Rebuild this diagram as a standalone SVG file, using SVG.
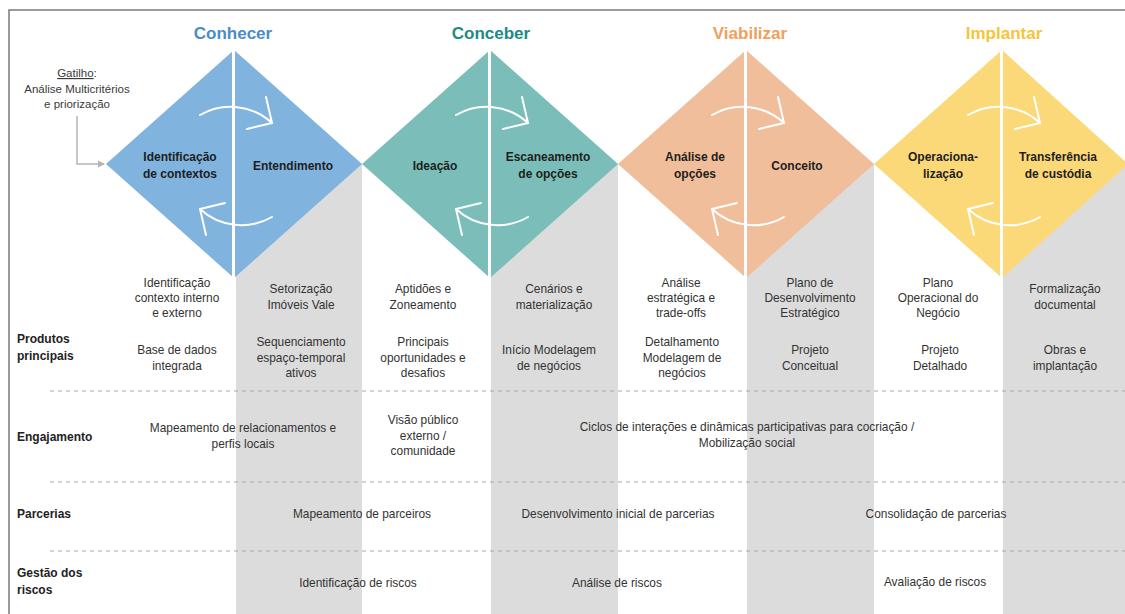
<svg xmlns="http://www.w3.org/2000/svg" width="1125" height="614" viewBox="0 0 1125 614">
<style>
  text { font-family: "Liberation Sans", Arial, sans-serif; }
  .t { font-size: 11.9px; fill: #333; text-anchor: middle; }
  .g { font-size: 11.5px; fill: #3a3a3a; text-anchor: middle; }
  .rl { font-size: 12px; font-weight: bold; fill: #222; }
  .dl { font-size: 12px; font-weight: bold; fill: #1e1e1e; text-anchor: middle; }
  .ti { font-size: 17px; font-weight: bold; text-anchor: middle; }
  .grey { fill: #dcdcdc; }
  .sep { stroke: #fff; stroke-width: 3; }
  .cyc { fill: none; stroke: #fff; stroke-width: 2; stroke-linecap: round; stroke-linejoin: round; }
  .dash { stroke: #a8a8a8; stroke-width: 1.2; stroke-dasharray: 4 4; }
</style>
<defs>
  <g id="cycle">
    <path class="cyc" d="M -36,-51 A 61 61 0 0 1 36,-43"/>
    <polyline class="cyc" points="30,-69 36,-43 11,-37"/>
    <g transform="rotate(180)">
      <path class="cyc" d="M -36,-51 A 61 61 0 0 1 36,-43"/>
      <polyline class="cyc" points="30,-69 36,-43 11,-37"/>
    </g>
  </g>
  <marker id="ah" markerWidth="8" markerHeight="8" refX="6" refY="4" orient="auto" markerUnits="userSpaceOnUse">
    <path d="M0,0.5 L7,4 L0,7.5 Z" fill="#b5b5b5"/>
  </marker>
</defs>

<rect width="1125" height="614" fill="#fff"/>

<!-- grey columns -->
<g id="columns">
  <rect class="grey" x="236" y="164" width="126" height="450"/>
  <rect class="grey" x="491" y="164" width="127" height="450"/>
  <rect class="grey" x="747" y="164" width="127" height="450"/>
  <rect class="grey" x="1003" y="164" width="122" height="450"/>
</g>

<!-- frame -->
<g id="frame" stroke="#7a7a7a" stroke-width="1.5" fill="none">
  <path d="M9,614 V10 H1125"/>
</g>

<!-- dashed separators -->
<g id="separators">
  <line class="dash" x1="50" y1="391" x2="1125" y2="391"/>
  <line class="dash" x1="50" y1="482" x2="1125" y2="482"/>
  <line class="dash" x1="50" y1="551" x2="1125" y2="551"/>
</g>

<!-- phases -->
<g id="phase-conhecer">
  <text class="ti" x="233" y="39" fill="#4a8cc8">Conhecer</text>
  <polygon points="234,50 362,164 234,278 106,164" fill="#80b3de"/>
  <line class="sep" x1="233.5" y1="50" x2="233.5" y2="278"/>
  <use href="#cycle" transform="translate(236,166)"/>
  <text class="dl" x="180" y="161">Identificação</text>
  <text class="dl" x="180" y="178">de contextos</text>
  <text class="dl" x="293" y="170">Entendimento</text>
</g>
<g id="phase-conceber">
  <text class="ti" x="491" y="39" fill="#1b8c82">Conceber</text>
  <polygon points="490,50 618,164 490,278 362,164" fill="#7bbeb9"/>
  <line class="sep" x1="489.5" y1="50" x2="489.5" y2="278"/>
  <use href="#cycle" transform="translate(492,166)"/>
  <text class="dl" x="435" y="170">Ideação</text>
  <text class="dl" x="548" y="161">Escaneamento</text>
  <text class="dl" x="548" y="178">de opções</text>
</g>
<g id="phase-viabilizar">
  <text class="ti" x="750" y="39" fill="#f0a05a">Viabilizar</text>
  <polygon points="746,50 874,164 746,278 618,164" fill="#f1be9b"/>
  <line class="sep" x1="745.5" y1="50" x2="745.5" y2="278"/>
  <use href="#cycle" transform="translate(748,166)"/>
  <text class="dl" x="695" y="161">Análise de</text>
  <text class="dl" x="695" y="178">opções</text>
  <text class="dl" x="797" y="170">Conceito</text>
</g>
<g id="phase-implantar">
  <text class="ti" x="1004" y="39" fill="#f5c43c">Implantar</text>
  <polygon points="1002,50 1128,164 1002,278 874,164" fill="#fcd978"/>
  <line class="sep" x1="1001.5" y1="50" x2="1001.5" y2="278"/>
  <use href="#cycle" transform="translate(1004,166)"/>
  <text class="dl" x="943" y="161">Operaciona-</text>
  <text class="dl" x="943" y="178">lização</text>
  <text class="dl" x="1058" y="161">Transferência</text>
  <text class="dl" x="1058" y="178">de custódia</text>
</g>

<!-- trigger -->
<g id="gatilho">
  <text class="g" x="77" y="77"><tspan text-decoration="underline">Gatilho</tspan>:</text>
  <text class="g" x="77" y="93">Análise Multicritérios</text>
  <text class="g" x="77" y="108">e priorização</text>
</g>
<g id="connectors">
  <polyline points="77,116 77,164 104,164" fill="none" stroke="#b5b5b5" stroke-width="1.5" marker-end="url(#ah)"/>
</g>

<!-- row labels -->
<g id="row-labels">
  <text class="rl" x="17" y="343">Produtos</text>
  <text class="rl" x="17" y="360">principais</text>
  <text class="rl" x="17" y="441">Engajamento</text>
  <text class="rl" x="17" y="518">Parcerias</text>
  <text class="rl" x="17" y="577">Gestão dos</text>
  <text class="rl" x="17" y="594">riscos</text>
</g>

<!-- products row 1 -->
<g id="produtos-1">
  <text class="t" x="177" y="287">Identificação</text>
  <text class="t" x="177" y="302">contexto interno</text>
  <text class="t" x="177" y="317">e externo</text>
  <text class="t" x="301" y="293">Setorização</text>
  <text class="t" x="301" y="309">Imóveis Vale</text>
  <text class="t" x="423" y="293">Aptidões e</text>
  <text class="t" x="423" y="309">Zoneamento</text>
  <text class="t" x="554" y="293">Cenários e</text>
  <text class="t" x="554" y="309">materialização</text>
  <text class="t" x="681" y="287">Análise</text>
  <text class="t" x="681" y="302">estratégica e</text>
  <text class="t" x="681" y="317">trade-offs</text>
  <text class="t" x="810" y="287">Plano de</text>
  <text class="t" x="810" y="302">Desenvolvimento</text>
  <text class="t" x="810" y="317">Estratégico</text>
  <text class="t" x="938" y="287">Plano</text>
  <text class="t" x="938" y="302">Operacional do</text>
  <text class="t" x="938" y="317">Negócio</text>
  <text class="t" x="1065" y="293">Formalização</text>
  <text class="t" x="1065" y="309">documental</text>
</g>

<!-- products row 2 -->
<g id="produtos-2">
  <text class="t" x="177" y="354">Base de dados</text>
  <text class="t" x="177" y="370">integrada</text>
  <text class="t" x="301" y="346">Sequenciamento</text>
  <text class="t" x="301" y="362">espaço-temporal</text>
  <text class="t" x="301" y="377">ativos</text>
  <text class="t" x="423" y="346">Principais</text>
  <text class="t" x="423" y="362">oportunidades e</text>
  <text class="t" x="423" y="377">desafios</text>
  <text class="t" x="549" y="354">Início Modelagem</text>
  <text class="t" x="549" y="370">de negócios</text>
  <text class="t" x="682" y="346">Detalhamento</text>
  <text class="t" x="682" y="362">Modelagem de</text>
  <text class="t" x="682" y="377">negócios</text>
  <text class="t" x="810" y="354">Projeto</text>
  <text class="t" x="810" y="370">Conceitual</text>
  <text class="t" x="940" y="354">Projeto</text>
  <text class="t" x="940" y="370">Detalhado</text>
  <text class="t" x="1065" y="354">Obras e</text>
  <text class="t" x="1065" y="370">implantação</text>
</g>

<!-- engagement -->
<g id="engajamento">
  <text class="t" x="243" y="432">Mapeamento de relacionamentos e</text>
  <text class="t" x="243" y="448">perfis locais</text>
  <text class="t" x="423" y="424">Visão público</text>
  <text class="t" x="423" y="440">externo /</text>
  <text class="t" x="423" y="455">comunidade</text>
  <text class="t" x="747" y="431">Ciclos de interações e dinâmicas participativas para cocriação /</text>
  <text class="t" x="747" y="447">Mobilização social</text>
</g>

<!-- partnerships -->
<g id="parcerias">
  <text class="t" x="362" y="518">Mapeamento de parceiros</text>
  <text class="t" x="618" y="518">Desenvolvimento inicial de parcerias</text>
  <text class="t" x="936" y="518">Consolidação de parcerias</text>
</g>

<!-- risk -->
<g id="riscos">
  <text class="t" x="358" y="587">Identificação de riscos</text>
  <text class="t" x="617" y="587">Análise de riscos</text>
  <text class="t" x="935" y="586">Avaliação de riscos</text>
</g>
</svg>
